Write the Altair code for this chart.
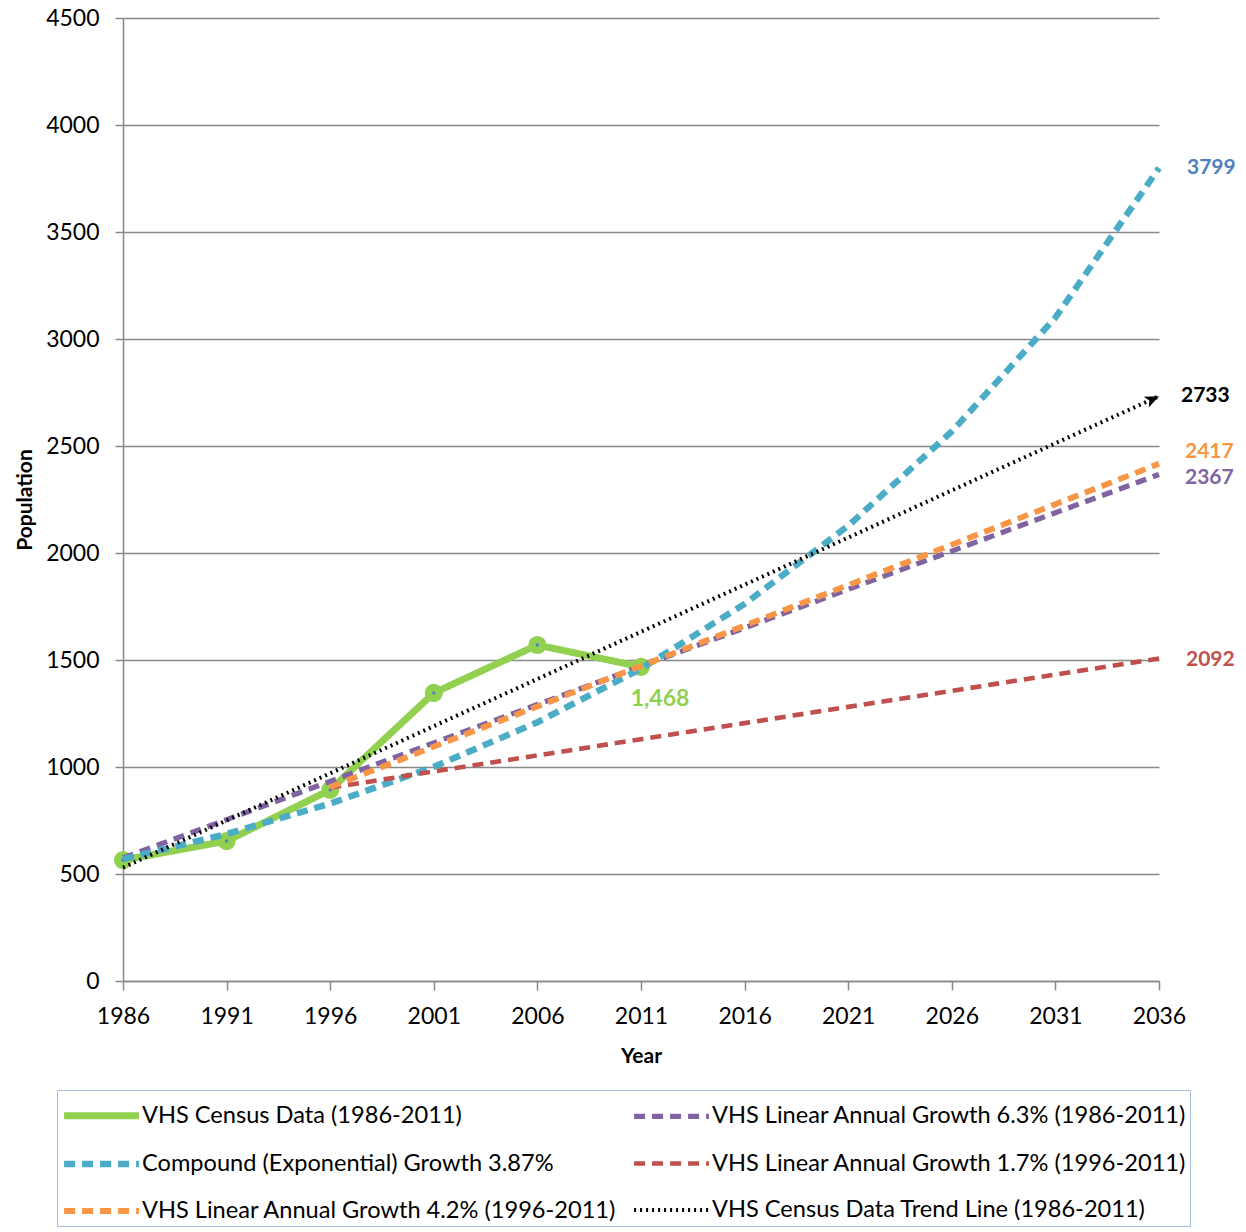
import altair as alt
import pandas as pd

# ---------------- data ----------------
years = [1986, 1991, 1996, 2001, 2006, 2011, 2016, 2021, 2026, 2031, 2036]
years_9 = [1996, 2001, 2006, 2011, 2016, 2021, 2026, 2031, 2036]

census_years = [1986, 1991, 1996, 2001, 2006, 2011]
census = [565, 654, 893, 1346, 1570, 1468]

compound = [569, 687, 829, 1001, 1209, 1459, 1762, 2127, 2568, 3100, 3799]
linear_63 = [575, 754, 933, 1113, 1292, 1471, 1650, 1830, 2009, 2188, 2367]
linear_42 = [906, 1095, 1283, 1472, 1661, 1850, 2039, 2228, 2417]
linear_17 = [903, 979, 1054, 1130, 1205, 1281, 1356, 1432, 1507]
trend_years = [1986, 2036]
trend = [530, 2733]

S_CENSUS = "VHS Census Data (1986-2011)"
S_L63 = "VHS Linear Annual Growth 6.3% (1986-2011)"
S_COMP = "Compound (Exponential) Growth 3.87%"
S_L17 = "VHS Linear Annual Growth 1.7% (1996-2011)"
S_L42 = "VHS Linear Annual Growth 4.2% (1996-2011)"
S_TREND = "VHS Census Data Trend Line (1986-2011)"

# legend fills column by column (3 rows)
series_order = [S_CENSUS, S_COMP, S_L42, S_L63, S_L17, S_TREND]
series_colors = ["#92D050", "#4BACC6", "#F79646", "#8064A2", "#C0504D", "#000000"]
series_dash = [[1, 0], [11, 7], [11, 7], [11, 7], [11, 7], [2, 4]]
series_width = [7, 4, 4, 4, 4, 2.5]

label_text = ["3799", "2733", "2417", "2367", "2092", "1,468"]
label_year = [2036, 2036, 2036, 2036, 2036, 2011]
label_pos = [3799, 2733, 2472, 2350, 1500, 1468]
label_color = ["#4F81BD", "#000000", "#F79646", "#8064A2", "#C0504D", "#92D050"]
label_dx = [28, 22, 26, 26, 27, 19]
label_dy = [0, 0, 0, 0, 0, 32]
label_size = [21, 21, 21, 21, 21, 23]

# ---------------- frames ----------------
rows = []
for y, v in zip(census_years, census):
    rows.append({"series": S_CENSUS, "year": y, "value": v, "ord": 0})
for y, v in zip(years, linear_63):
    rows.append({"series": S_L63, "year": y, "value": v, "ord": 1})
for y, v in zip(years, compound):
    rows.append({"series": S_COMP, "year": y, "value": v, "ord": 2})
for y, v in zip(years_9, linear_17):
    rows.append({"series": S_L17, "year": y, "value": v, "ord": 3})
for y, v in zip(years_9, linear_42):
    rows.append({"series": S_L42, "year": y, "value": v, "ord": 4})
for y, v in zip(trend_years, trend):
    rows.append({"series": S_TREND, "year": y, "value": v, "ord": 5})
df = pd.DataFrame(rows)

census_df = df[df.series == S_CENSUS]
other_df = df[df.series != S_CENSUS]
arrow_df = pd.DataFrame({"year": [trend_years[-1]], "value": [trend[-1]]})
labels_df = pd.DataFrame({"text": label_text, "year": label_year, "pos": label_pos,
                          "color": label_color})

FONT = "Lato"

x_enc = alt.X("year:Q",
              scale=alt.Scale(domain=[1986, 2036], nice=False, zero=False),
              axis=alt.Axis(values=years, format="d", title="Year",
                            labelFontSize=23, labelPadding=15, labelColor="black",
                            labelFlush=False, labelOverlap=False, labelBound=False,
                            titleFontSize=21, titleFontWeight="bold", titlePadding=17,
                            titleColor="black",
                            domainColor="#888888", domainWidth=1.5,
                            tickColor="#888888", tickWidth=1.5, tickSize=9,
                            grid=False))
y_enc = alt.Y("value:Q",
              scale=alt.Scale(domain=[0, 4500], nice=False),
              axis=alt.Axis(values=list(range(0, 4501, 500)), format="d", title="Population",
                            labelFontSize=23, labelPadding=16, labelColor="black",
                            titleFontSize=21, titleFontWeight="bold", titlePadding=10,
                            titleColor="black",
                            domainColor="#888888", domainWidth=1.5,
                            tickColor="#888888", tickWidth=1.5, tickSize=8,
                            grid=True, gridColor="#888888", gridWidth=1.5))

legend = alt.Legend(orient="none", legendX=-66, legendY=1072, columns=2, title=None,
                    labelFontSize=23.6, labelFont=FONT, labelColor="black",
                    labelLimit=0, labelOffset=18,
                    symbolType="M-2,0L2,0", symbolSize=1400, symbolOffset=19,
                    strokeColor="#A7BFE4", padding=3,
                    rowPadding=12, columnPadding=6)

color_enc = alt.Color("series:N", scale=alt.Scale(domain=series_order, range=series_colors),
                      legend=legend)
dash_enc = alt.StrokeDash("series:N", scale=alt.Scale(domain=series_order, range=series_dash),
                          legend=legend)
width_enc = alt.StrokeWidth("series:N", scale=alt.Scale(domain=series_order, range=series_width),
                            legend=legend)

census_line = alt.Chart(census_df).mark_line(strokeCap="round", strokeJoin="round").encode(
    x=x_enc, y=y_enc, color=color_enc, strokeDash=dash_enc, strokeWidth=width_enc)

census_pts = alt.Chart(census_df).mark_point(filled=True, size=330, opacity=1,
                                             color="#92D050").encode(x="year:Q", y="value:Q")
census_dot = alt.Chart(census_df).mark_point(filled=True, size=12, opacity=1,
                                             color="#4F81BD").encode(x="year:Q", y="value:Q")

other_lines = alt.Chart(other_df).mark_line(strokeCap="butt").encode(
    x="year:Q", y="value:Q", color=color_enc, strokeDash=dash_enc, strokeWidth=width_enc,
    order="ord:Q")

arrow = alt.Chart(arrow_df).mark_point(
    shape="M-2,-0.85L0,0L-2,0.85L-1.5,0Z", filled=True, color="black", opacity=1,
    size=200, angle=335).encode(x="year:Q", y="value:Q")

label_layers = []
for t, yr, p, c, dx, dy, fs in zip(label_text, label_year, label_pos, label_color,
                                   label_dx, label_dy, label_size):
    sub = labels_df[labels_df.text == t]
    align = "center" if t == "1,468" else "left"
    label_layers.append(
        alt.Chart(sub).mark_text(font=FONT, fontSize=fs, fontWeight="bold", align=align,
                                 baseline="middle", dx=dx, dy=dy, color=c).encode(
            x="year:Q", y="pos:Q", text="text:N"))

chart = alt.layer(census_line, census_pts, census_dot, other_lines, arrow, *label_layers).properties(
    width=1036, height=963,
    autosize=alt.AutoSizeParams(type="none"),
    padding={"left": 123, "top": 18, "right": 87, "bottom": 251},
).configure(font=FONT).configure_view(stroke=None)

chart.save("out.html", embed_options={"renderer": "svg", "actions": False})
